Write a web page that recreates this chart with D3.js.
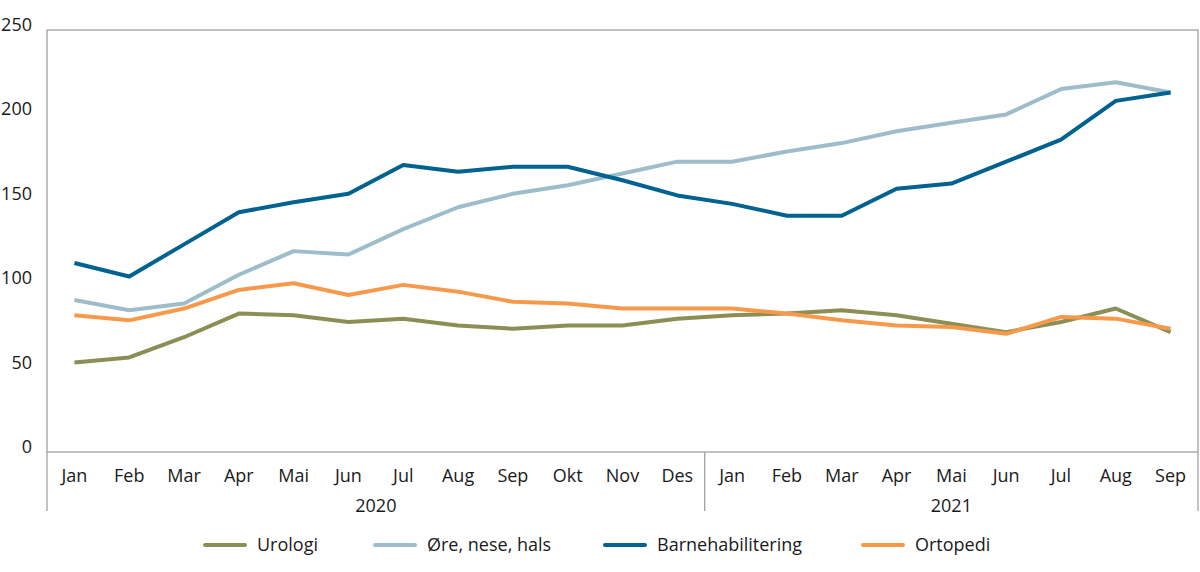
<!DOCTYPE html>
<html>
<head>
<meta charset="utf-8">
<script src="https://cdn.jsdelivr.net/npm/d3@7"></script>
<style>
  body { margin: 0; background: #fff; }
  text { font-family: "Open Sans", "Lato", sans-serif; fill: #1a1a1a; }
</style>
</head>
<body>
<script>
//data
var months = ["Jan","Feb","Mar","Apr","Mai","Jun","Jul","Aug","Sep","Okt","Nov","Des",
	"Jan","Feb","Mar","Apr","Mai","Jun","Jul","Aug","Sep"];
var years = [{label: "2020", from: 0, to: 12}, {label: "2021", from: 12, to: 21}];
var yTicks = [0, 50, 100, 150, 200, 250];

var urologi = [53,56,68,82,81,77,79,75,73,75,75,79,81,82,84,81,76,71,77,85,71];
var oreNeseHals = [90,84,88,105,119,117,132,145,153,158,165,172,172,178,183,190,195,200,215,219,213];
var barnehabilitering = [112,104,123,142,148,153,170,166,169,169,161,152,147,140,140,156,159,172,185,208,213];
var ortopedi = [81,78,85,96,100,93,99,95,89,88,85,85,85,82,78,75,74,70,80,79,73];

var seriesNames = ["Urologi", "Øre, nese, hals", "Barnehabilitering", "Ortopedi"];
var seriesColors = ["#8c8f55", "#9dbdca", "#00628f", "#f7994b"];
var seriesValues = [urologi, oreNeseHals, barnehabilitering, ortopedi];

window.onload = drawChart();

function drawChart(){

	var width = 1200,
		height = 572;
	var left = 47, right = 1198, top = 30, bottom = 452;

	var svg = d3.select("body")
		.append("svg")
		.attr("width", width)
		.attr("height", height);

	//band scale so each month gets a slot
	var x = d3.scaleBand()
		.domain(d3.range(months.length))
		.range([left, right]);

	var y = d3.scaleLinear()
		.domain([0, 250])
		.range([bottom, top]);

	//frame round the plot
	svg.append("rect")
		.attr("x", left)
		.attr("y", top)
		.attr("width", right - left)
		.attr("height", bottom - top)
		.attr("fill", "none")
		.attr("stroke", "#9a9a9a")
		.attr("stroke-width", 1.2);

	//y labels
	svg.selectAll(".ylab")
		.data(yTicks)
		.enter()
		.append("text")
		.attr("class", "ylab")
		.attr("x", 32)
		.attr("y", function(d){ return y(d); })
		.attr("dy", "0.05em")
		.attr("text-anchor", "end")
		.style("font-size", "18px")
		.text(function(d){ return d; });

	//month labels
	svg.selectAll(".mlab")
		.data(months)
		.enter()
		.append("text")
		.attr("class", "mlab")
		.attr("x", function(d, i){ return x(i) + x.bandwidth() / 2; })
		.attr("y", 482)
		.attr("text-anchor", "middle")
		.style("font-size", "18px")
		.text(function(d){ return d; });

	//year separators and labels
	var seps = [0, 12, 21];
	svg.selectAll(".sep")
		.data(seps)
		.enter()
		.append("line")
		.attr("x1", function(d){ return d < months.length ? x(d) : right; })
		.attr("x2", function(d){ return d < months.length ? x(d) : right; })
		.attr("y1", bottom)
		.attr("y2", 511)
		.attr("stroke", "#9a9a9a")
		.attr("stroke-width", 1.2);

	svg.selectAll(".yearlab")
		.data(years)
		.enter()
		.append("text")
		.attr("x", function(d){
			var x2 = d.to < months.length ? x(d.to) : right;
			return (x(d.from) + x2) / 2;
		})
		.attr("y", 512)
		.attr("text-anchor", "middle")
		.style("font-size", "18px")
		.text(function(d){ return d.label; });

	//lines
	var line = d3.line()
		.x(function(d, i){ return x(i) + x.bandwidth() / 2; })
		.y(function(d){ return y(d); });

	svg.selectAll(".series")
		.data(seriesValues)
		.enter()
		.append("path")
		.attr("class", "series")
		.attr("d", line)
		.attr("fill", "none")
		.attr("stroke", function(d, i){ return seriesColors[i]; })
		.attr("stroke-width", 4)
		.attr("stroke-linejoin", "round");

	//legend
	var legendX = [205, 375, 605, 863];
	var legend = svg.selectAll(".legend")
		.data(seriesNames)
		.enter()
		.append("g")
		.attr("transform", function(d, i){ return "translate(" + legendX[i] + ",545)"; });

	legend.append("line")
		.attr("x1", 0)
		.attr("x2", 40)
		.attr("stroke", function(d, i){ return seriesColors[i]; })
		.attr("stroke-width", 4)
		.attr("stroke-linecap", "round");

	legend.append("text")
		.attr("x", 52)
		.attr("dy", "0.35em")
		.style("font-size", "18px")
		.text(function(d){ return d; });
};
</script>
</body>
</html>
